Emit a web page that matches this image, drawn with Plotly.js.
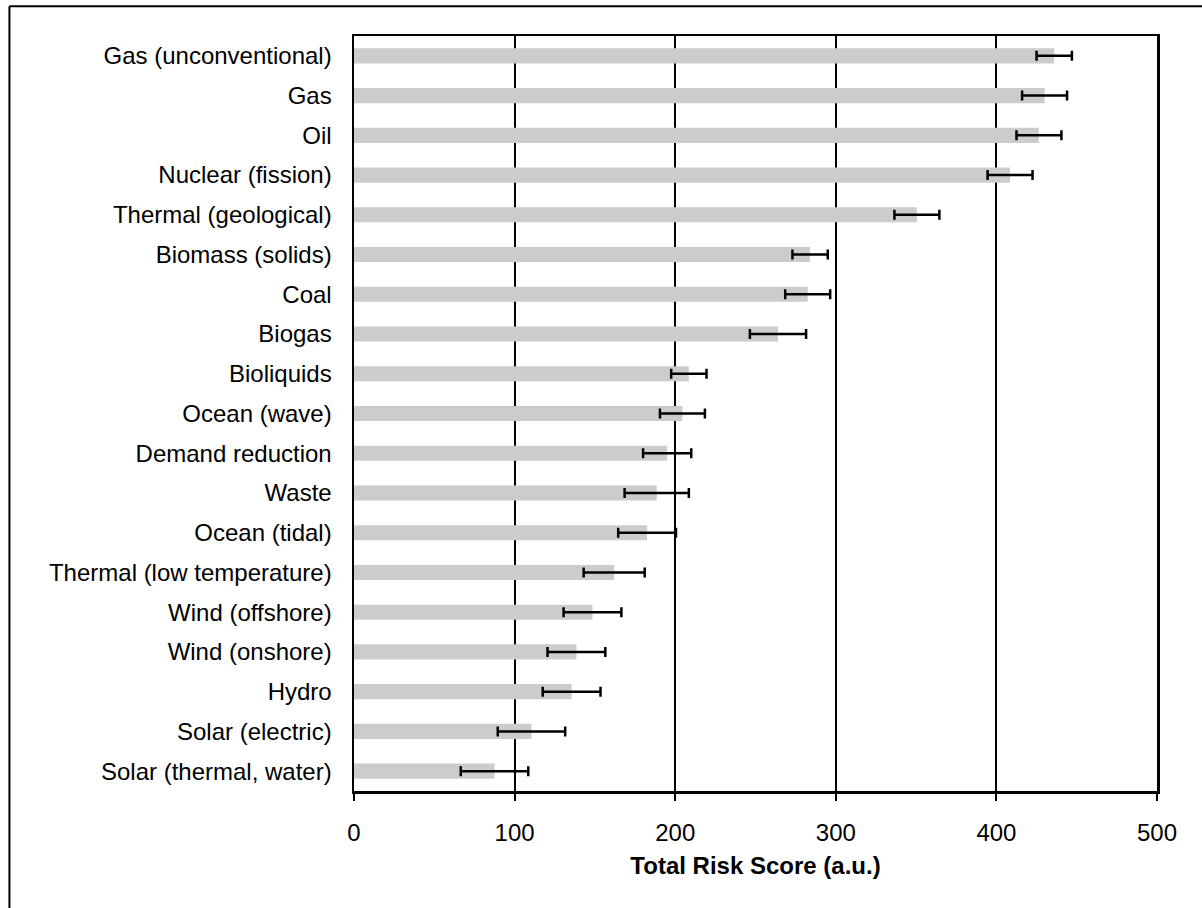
<!DOCTYPE html>
<html>
<head>
<meta charset="utf-8">
<script src="https://cdn.plot.ly/plotly-3.0.1.min.js"></script>
<style>html,body{margin:0;padding:0;background:#fff;}#chart{width:1202px;height:908px;}</style>
</head>
<body>
<div id="chart"></div>
<script>
var categories = [
  "Gas (unconventional)", "Gas", "Oil", "Nuclear (fission)", "Thermal (geological)",
  "Biomass (solids)", "Coal", "Biogas", "Bioliquids", "Ocean (wave)",
  "Demand reduction", "Waste", "Ocean (tidal)", "Thermal (low temperature)",
  "Wind (offshore)", "Wind (onshore)", "Hydro", "Solar (electric)", "Solar (thermal, water)"
];
var riskScores = [436, 430, 426.5, 408.5, 350.5, 284, 282.5, 264, 208.5, 204.5,
                  195, 188.5, 182.5, 162, 148.5, 138.5, 135.5, 110.5, 87.5];
var riskErrors = [11, 14, 14, 14, 14, 11, 14, 17.5, 11, 14,
                  15, 20, 18, 19, 18, 18, 18, 21, 21];
var xTickValues = [0, 100, 200, 300, 400, 500];

var FONT = "Liberation Sans, Arial, Helvetica, sans-serif";

var trace = {
  type: "bar",
  orientation: "h",
  y: categories,
  x: riskScores,
  marker: {color: "#cccccc", line: {width: 0}},
  error_x: {type: "data", array: riskErrors, visible: true, color: "#000000", thickness: 2.5, width: 5},
  hoverinfo: "x+y"
};

var layout = {
  width: 1202,
  height: 908,
  margin: {l: 354, r: 45, t: 36, b: 117, pad: 0},
  paper_bgcolor: "#ffffff",
  plot_bgcolor: "#ffffff",
  showlegend: false,
  bargap: 0.62,
  font: {family: FONT, size: 24, color: "#000000"},
  xaxis: {
    range: [0, 500],
    tickvals: xTickValues,
    ticktext: xTickValues.map(String),
    ticks: "outside",
    ticklen: 7,
    tickwidth: 2,
    tickcolor: "#000000",
    ticklabelstandoff: 12,
    showgrid: true,
    gridcolor: "#000000",
    gridwidth: 2,
    zeroline: false,
    showline: true,
    linecolor: "#000000",
    linewidth: 2.5,
    mirror: true,
    tickfont: {family: FONT, size: 24, color: "#000000"},
    title: {text: "<b>Total Risk Score (a.u.)</b>", font: {family: FONT, size: 24, color: "#000000"}, standoff: 12}
  },
  yaxis: {
    categoryorder: "array",
    categoryarray: categories,
    autorange: "reversed",
    ticks: "",
    ticklabelstandoff: 15,
    showgrid: false,
    zeroline: false,
    showline: true,
    linecolor: "#000000",
    linewidth: 2.5,
    mirror: true,
    tickfont: {family: FONT, size: 24, color: "#000000"}
  },
  shapes: [
    {type: "line", xref: "paper", yref: "paper", x0: -0.4291, x1: 1.1, y0: 1.0393, y1: 1.0393,
     line: {color: "#000000", width: 2}},
    {type: "line", xref: "paper", yref: "paper", x0: -0.4291, x1: -0.4291, y0: 1.0393, y1: -0.2,
     line: {color: "#000000", width: 2}}
  ]
};

Plotly.newPlot("chart", [trace], layout, {displayModeBar: false, staticPlot: true});
</script>
</body>
</html>
